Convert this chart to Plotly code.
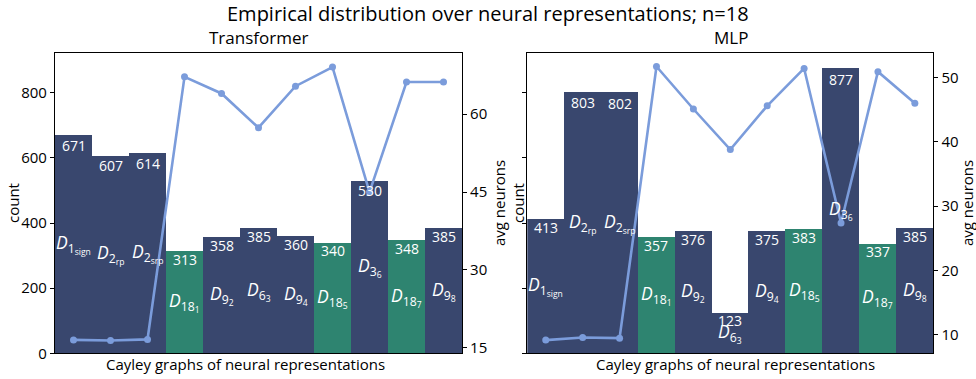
import plotly.graph_objects as go

W, H = 976, 379

labels = ["<i>D</i><sub>1<sub>sign</sub></sub>", "<i>D</i><sub>2<sub>rp</sub></sub>",
          "<i>D</i><sub>2<sub>srp</sub></sub>", "<i>D</i><sub>18<sub>1</sub></sub>",
          "<i>D</i><sub>9<sub>2</sub></sub>", "<i>D</i><sub>6<sub>3</sub></sub>",
          "<i>D</i><sub>9<sub>4</sub></sub>", "<i>D</i><sub>18<sub>5</sub></sub>",
          "<i>D</i><sub>3<sub>6</sub></sub>", "<i>D</i><sub>18<sub>7</sub></sub>",
          "<i>D</i><sub>9<sub>8</sub></sub>"]
is_green = [False, False, False, True, False, False, False, True, False, True, False]

tf_counts = [671, 607, 614, 313, 358, 385, 360, 340, 530, 348, 385]
tf_neurons = [16.5, 16.4, 16.6, 67.2, 64.0, 57.4, 65.4, 69.1, 45.0, 66.2, 66.2]
mlp_counts = [413, 803, 802, 357, 376, 123, 375, 383, 877, 337, 385]
mlp_neurons = [9.2, 9.6, 9.5, 51.7, 45.1, 38.8, 45.6, 51.4, 27.4, 50.9, 46.0]

NAVY = "#39476e"
GREEN = "#2e8470"
LINE = "#7b9cdb"
FONT = "Open Sans"

def px(x):
    return x / W

def py(y):
    return 1 - y / H

xs = list(range(len(labels)))
colors = [GREEN if g else NAVY for g in is_green]

fig = go.Figure()
panels = [
    ("x", "y", "y2", tf_counts, tf_neurons),
    ("x2", "y3", "y4", mlp_counts, mlp_neurons),
]
for xa, ya, ya2, counts, neurons in panels:
    fig.add_trace(go.Bar(x=xs, y=counts, width=1.0, marker=dict(color=colors, line=dict(width=0)),
                         xaxis=xa, yaxis=ya, showlegend=False, hoverinfo="skip"))
    fig.add_trace(go.Scatter(x=xs, y=neurons, mode="lines+markers",
                             line=dict(color=LINE, width=2.6), marker=dict(color=LINE, size=7),
                             xaxis=xa, yaxis=ya2, showlegend=False))

annotations = []
for xa, ya, ya2, counts, neurons in panels:
    for i, c in enumerate(counts):
        annotations.append(dict(x=i, y=c * 0.98, xref=xa, yref=ya, text=str(c), showarrow=False,
                                xanchor="center", yanchor="top", yshift=5.5,
                                font=dict(family=FONT, size=14, color="white")))
        annotations.append(dict(x=i, y=c / 2, xref=xa, yref=ya, text=labels[i], showarrow=False,
                                xanchor="center", yanchor="middle", yshift=0,
                                font=dict(family=FONT, size=17.5, color="white")))

AX = dict(family=FONT, size=15, color="black")
def ptext(x, y, text, font, angle=0):
    return dict(x=px(x), y=py(y), xref="paper", yref="paper", showarrow=False, text=text,
                font=font, xanchor="center", yanchor="middle", textangle=angle)

annotations += [
    ptext(488, 13, "Empirical distribution over neural representations; n=18",
          dict(family=FONT, size=20, color="black")),
    ptext(258, 37, "Transformer", dict(family=FONT, size=17, color="black")),
    ptext(731, 37, "MLP", dict(family=FONT, size=17, color="black")),
    ptext(245, 364, "Cayley graphs of neural representations", AX),
    ptext(735, 364, "Cayley graphs of neural representations", AX),
    ptext(13, 203, "count", AX, -90),
    ptext(499, 203, "avg neurons", AX, -90),
    ptext(518, 203, "count", AX, -90),
    ptext(967, 203, "avg neurons", AX, -90),
]

ydom = [py(353.3), py(53)]
common_x = dict(range=[-0.5, 10.5], showticklabels=False, ticks="", showgrid=False, zeroline=False,
                showline=True, mirror=True, linecolor="black", linewidth=1.2, automargin=False)
common_y = dict(showgrid=False, zeroline=False, ticks="outside", ticklen=4, tickwidth=1.1,
                tickcolor="black", tickfont=dict(family=FONT, size=15, color="black"),
                showline=True, linecolor="black", linewidth=1.2, automargin=False)

fig.update_layout(
    width=W, height=H, margin=dict(l=0, r=0, t=0, b=0), autosize=False,
    paper_bgcolor="white", plot_bgcolor="white", bargap=0,
    xaxis=dict(domain=[px(55), px(462)], anchor="y", **common_x),
    xaxis2=dict(domain=[px(527.3), px(933.3)], anchor="y3", **common_x),
    yaxis=dict(domain=ydom, anchor="x", range=[0, 922], tickvals=[0, 200, 400, 600, 800], **common_y),
    yaxis2=dict(overlaying="y", anchor="x", side="right", range=[13.92, 71.8],
                tickvals=[15, 30, 45, 60], **common_y),
    yaxis3=dict(domain=ydom, anchor="x2", range=[0, 922], tickvals=[0, 200, 400, 600, 800],
                showticklabels=False, **common_y),
    yaxis4=dict(overlaying="y3", anchor="x2", side="right", range=[7.15, 53.8],
                tickvals=[10, 20, 30, 40, 50], **common_y),
    annotations=annotations,
)

fig.write_html("out.html")
